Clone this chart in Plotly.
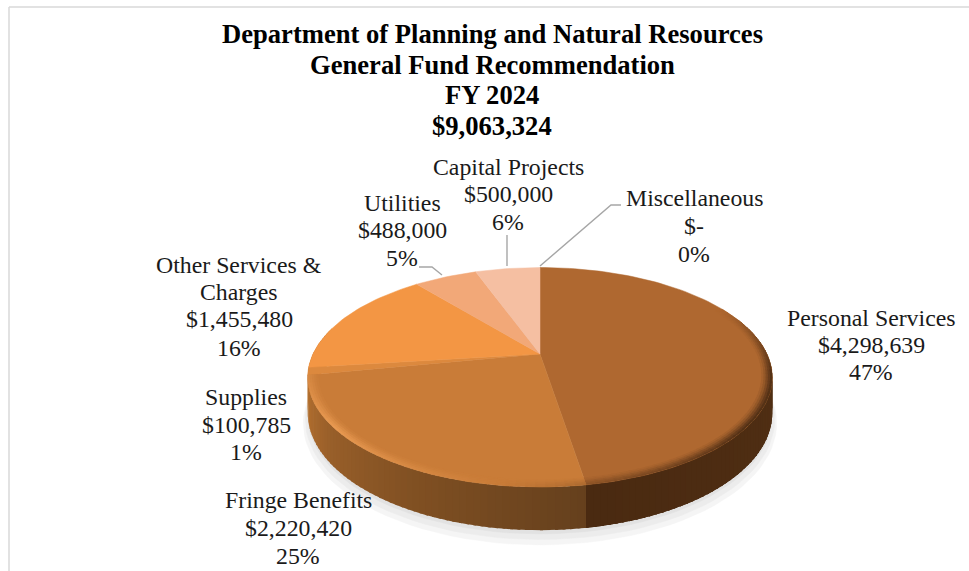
import math
import plotly.graph_objects as go

# ---------- data ----------
categories = ["Personal Services", "Fringe Benefits", "Supplies",
              "Other Services & Charges", "Utilities", "Capital Projects", "Miscellaneous"]
values = [4298639, 2220420, 100785, 1455480, 488000, 500000, 0]
percent_labels = [47, 25, 1, 16, 5, 6, 0]
slice_colors = ["#AF6830", "#C97C38", "#DC893E", "#F39644", "#F2A878", "#F5BFA2", "#F5BFA2"]
title_lines = ["Department of Planning and Natural Resources",
               "General Fund Recommendation", "FY 2024", "$9,063,324"]

# ---------- perspective disc geometry ----------
W, H = 969, 571
CX, PY = 540, 354
A, B, K, DEPTH = 104.8, 227, 0.212, 34


def proj(r, deg, drop=0.0):
    t = math.radians(deg)
    u, v = r * math.sin(t), r * math.cos(t)
    d = 1 + K * v
    return CX + B * u / d, PY - A * v / d + drop / d


def mix(c1, c2, f):
    a = [int(c1[i:i + 2], 16) for i in (1, 3, 5)]
    b = [int(c2[i:i + 2], 16) for i in (1, 3, 5)]
    return "#%02x%02x%02x" % tuple(round(a[i] + (b[i] - a[i]) * f) for i in range(3))


def poly(fig, pts, color, edge=0.0):
    xs = [p[0] for p in pts] + [pts[0][0]]
    ys = [p[1] for p in pts] + [pts[0][1]]
    fig.add_trace(go.Scatter(x=xs, y=ys, mode="lines", fill="toself", fillcolor=color,
                             line=dict(color=color, width=edge), hoverinfo="skip", showlegend=False))


def interp(stops, t):
    for (t0, c0), (t1, c1) in zip(stops, stops[1:]):
        if t0 <= t <= t1:
            return mix(c0, c1, (t - t0) / (t1 - t0))
    return stops[0][1] if t < stops[0][0] else stops[-1][1]


fig = go.Figure()

# soft shadow under the disc
for r, drop, col in [(1.018, DEPTH + 9, "#f5f5f5"), (1.01, DEPTH + 6, "#ececec"), (1.0, DEPTH + 3, "#e2e2e2")]:
    poly(fig, [proj(r, d, drop) for d in range(0, 360, 3)], col, 0.5)

# cumulative slice angles
total = sum(values)
edges = [0.0]
for v in values:
    edges.append(edges[-1] + 360.0 * v / total)
split = edges[1]

# side wall, shaded by angle; painted right to left, each strip overlapping the previous one
wall_stops = [(70, "#5a3416"), (110, "#4f2e13"), (split - 0.01, "#4a2a11"), (split, "#65401d"),
              (205, "#7f4f22"), (235, "#9a602a"), (258, "#b8722f"), (285, "#c47c36")]
step = 1.5
d = 285.0
while d > 70:
    e = max(d - step, 70)
    if e < split < d:
        e = split
    lo = e - 0.6 if e != split else split - 0.6
    poly(fig, [proj(1, lo), proj(1, d), proj(1, d, DEPTH), proj(1, lo, DEPTH)], interp(wall_stops, (d + e) / 2))
    d = e
# redraw the personal-services wall so the shade break at the slice edge stays crisp
d = split
while d > 70:
    e = max(d - step, 70)
    poly(fig, [proj(1, e - 0.6), proj(1, d), proj(1, d, DEPTH), proj(1, e - 0.6, DEPTH)],
         interp(wall_stops, min((d + e) / 2, split - 0.02)))
    d = e

# top surface wedges
for i in range(len(values)):
    a0, a1 = edges[i], edges[i + 1]
    if a1 - a0 <= 0:
        continue
    n = max(2, int((a1 - a0) / 1.5))
    rim = [proj(1, a0 + (a1 - a0) * j / n) for j in range(n + 1)]
    poly(fig, [(CX, PY)] + rim, slice_colors[i], 0.5)


# bevel along the rim
def bevel(t):
    """signed strength: negative darkens, positive lightens"""
    if t < 62:
        return 0.0
    if t <= 100:
        return -0.8 * (t - 62) / 38
    if t <= 130:
        return -0.8
    if t <= split:
        return -0.8 + 0.5 * (t - 130) / (split - 130)
    if t <= 188:
        return -0.2 * (188 - t) / (188 - split)
    if t < 285:
        return 0.8 * max(0.0, 1 - abs(t - 232) / 44)
    return 0.0


rings = [(0.955, 0.964, 0.12), (0.964, 0.973, 0.3), (0.973, 0.982, 0.55), (0.982, 0.991, 0.8), (0.991, 1.0, 1.0)]
for r0, r1, f in rings:
    for i in range(2):
        a0, a1 = edges[i], edges[i + 1]
        d = a1
        low = max(a0, 62)
        while d > low:
            e = max(d - 2, low)
            s = bevel((d + e) / 2)
            amt = abs(s) * f
            c = mix(slice_colors[i], "#3f2410" if s < 0 else "#f0a158", amt)
            lo = max(e - 0.5, low)
            # ring strips overlap slightly outward and sideways to hide seams
            poly(fig, [proj(r0, lo), proj(r0, d), proj(r1 + 0.002 if r1 < 1 else 1, d),
                       proj(r1 + 0.002 if r1 < 1 else 1, lo)], c)
            d = e

# leader lines
leader_color = "#a6a6a6"
leaders = {
    "Utilities": ([419, 432, 442], [267, 267, 275]),
    "Capital Projects": ([507, 507], [235, 266]),
    "Miscellaneous": ([621, 611, 540], [205, 205, 266]),
}
for name, (lx, ly) in leaders.items():
    fig.add_trace(go.Scatter(x=lx, y=ly, mode="lines", line=dict(color=leader_color, width=1.4),
                             hoverinfo="skip", showlegend=False))


def money(v):
    return f"${v:,}" if v else "$-"


# label text lines, anchored by line centre
label_layout = {
    "Personal Services": (871, [318, 345, 372], ["Personal Services"]),
    "Fringe Benefits": (298, [500, 528, 556], ["Fringe Benefits"]),
    "Supplies": (246, [397, 425, 452], ["Supplies"]),
    "Other Services & Charges": (239, [265, 292, 319, 348], ["Other Services &", "Charges"]),
    "Utilities": (402, [203, 230, 258], ["Utilities"]),
    "Capital Projects": (508, [167, 194, 222], ["Capital Projects"]),
    "Miscellaneous": (694, [198, 226, 254], ["Miscellaneous"]),
}
annotations = []
SERIF = "Liberation Serif"
for name, v, p in zip(categories, values, percent_labels):
    cx, ys, head = label_layout[name]
    for y, txt in zip(ys, head + [money(v), f"{p}%"]):
        annotations.append(dict(x=cx, y=y, xref="x", yref="y", text=txt, showarrow=False,
                                xanchor="center", yanchor="middle",
                                font=dict(family=SERIF, size=23.8, color="#1a1a1a")))
for y, txt in zip([34, 65, 95, 126], title_lines):
    annotations.append(dict(x=492, y=y, xref="x", yref="y", text=f"<b>{txt}</b>", showarrow=False,
                            xanchor="center", yanchor="middle",
                            font=dict(family=SERIF, size=26.6, color="#000000")))

frame = "#d9d9d9"
shapes = [
    dict(type="line", xref="x", yref="y", x0=9, x1=9, y0=7, y1=571, line=dict(color=frame, width=1.5)),
    dict(type="line", xref="x", yref="y", x0=9, x1=969, y0=7, y1=7, line=dict(color=frame, width=1.5)),
]

fig.update_layout(
    width=W, height=H, margin=dict(l=0, r=0, t=0, b=0),
    paper_bgcolor="white", plot_bgcolor="white", showlegend=False,
    xaxis=dict(range=[0, W], visible=False, fixedrange=True),
    yaxis=dict(range=[H, 0], visible=False, fixedrange=True),
    annotations=annotations, shapes=shapes,
)
fig.write_html("out.html", config={"displayModeBar": False},
               post_script="document.body.style.margin='0';document.body.style.overflow='hidden';")
